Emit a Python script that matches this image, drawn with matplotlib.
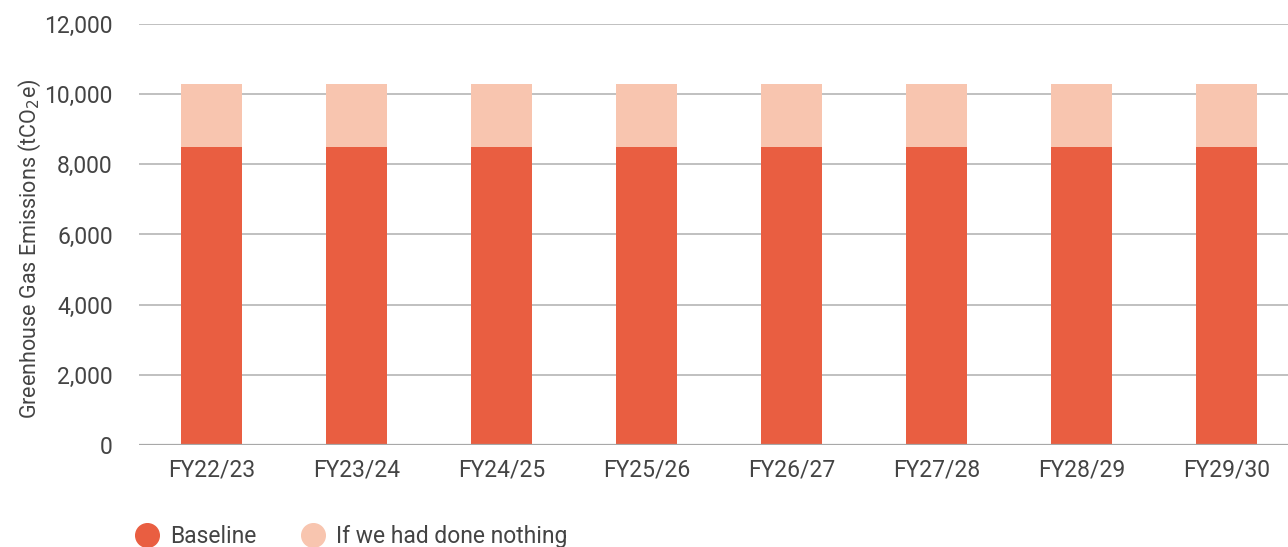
import matplotlib.pyplot as plt
from matplotlib.lines import Line2D

plt.rcParams['font.family'] = ['Roboto', 'DejaVu Sans']

years = ['FY22/23', 'FY23/24', 'FY24/25', 'FY25/26', 'FY26/27', 'FY27/28', 'FY28/29', 'FY29/30']
baseline = [8500, 8500, 8500, 8500, 8500, 8500, 8500, 8500]
did_nothing = [1800, 1800, 1800, 1800, 1800, 1800, 1800, 1800]

c_base = '#E95E41'
c_nothing = '#F8C5AF'
txt = '#444444'

fig = plt.figure(figsize=(12.88, 5.47), dpi=100)
ax = fig.add_axes([0.108, 0.1865, 0.9006, 0.7697])

x = range(len(years))
ax.bar(x, baseline, width=0.42, color=c_base, zorder=3)
ax.bar(x, did_nothing, width=0.42, bottom=baseline, color=c_nothing, zorder=3)

ax.set_xlim(-0.5, 7.5)
ax.set_ylim(0, 12000)
ax.set_yticks(range(0, 12001, 2000))
ax.set_yticklabels([f'{v:,}' for v in range(0, 12001, 2000)])
ax.set_xticks(list(x))
ax.set_xticklabels(years)
ax.grid(axis='y', color='#b5b5b5', linewidth=1.2, zorder=0)
ax.axhline(0, color='#a8a8a8', linewidth=1.6, zorder=4)
for s in ax.spines.values():
    s.set_visible(False)
ax.tick_params(axis='both', length=0, labelsize=16.5, colors=txt)
ax.tick_params(axis='y', pad=19)
ax.tick_params(axis='x', pad=10)

ax.set_ylabel('Greenhouse Gas Emissions (tCO$_2$e)', fontsize=15.5, color=txt)
ax.yaxis.set_label_coords(-0.083, 0.465)

handles = [
    Line2D([], [], marker='o', linestyle='', markersize=17, color=c_base, label='Baseline'),
    Line2D([], [], marker='o', linestyle='', markersize=17, color=c_nothing, label='If we had done nothing'),
]
fig.legend(handles=handles, loc='lower left', bbox_to_anchor=(0.089, -0.04), ncol=2,
           frameon=False, fontsize=16.5, labelcolor=txt, handletextpad=0.5,
           columnspacing=2.0, handlelength=1.0)

fig.savefig('out.png', dpi=100)
